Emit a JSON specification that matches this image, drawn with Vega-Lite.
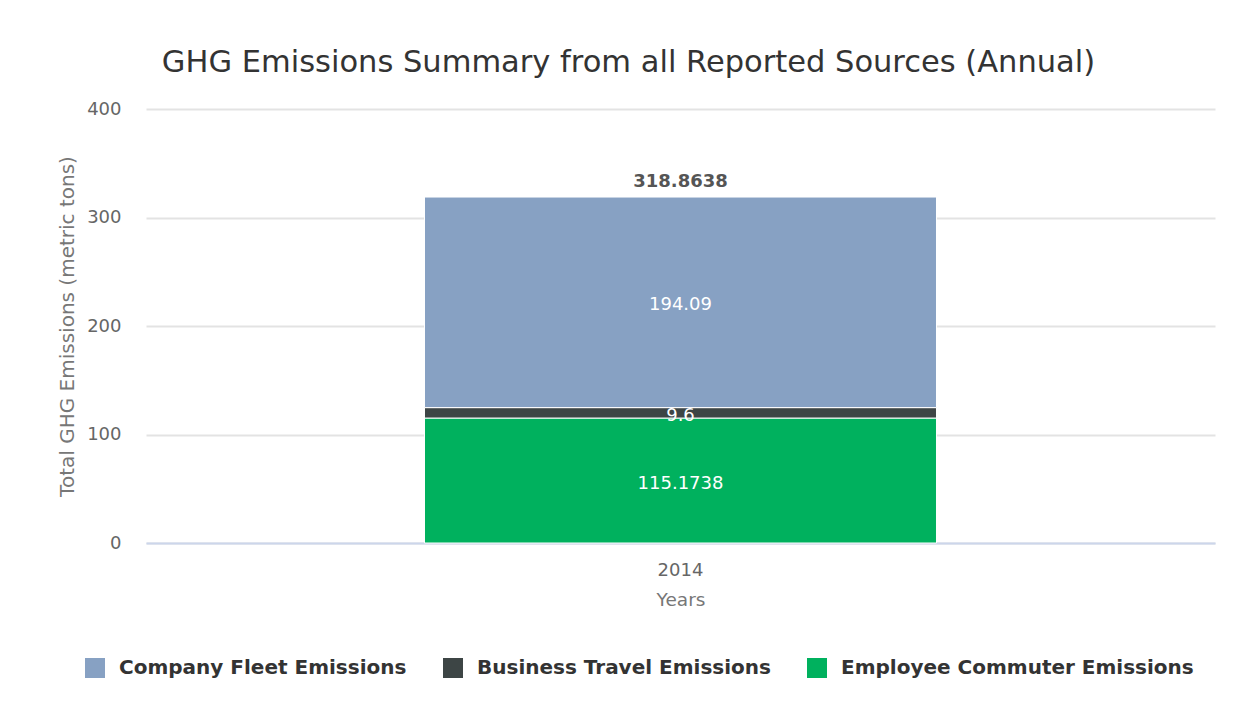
{
  "$schema": "https://vega.github.io/schema/vega-lite/v6.json",
  "width": 1069,
  "height": 434,
  "autosize": {"type": "none"},
  "padding": {"left": 146, "top": 109, "right": 42, "bottom": 170},
  "background": "white",
  "config": {
    "view": {"stroke": null},
    "font": "DejaVu Sans",
    "axisY": {
      "grid": true,
      "gridColor": "#e3e3e3",
      "gridWidth": 2,
      "domain": false,
      "ticks": false,
      "labelPadding": 25,
      "labelFontSize": 18,
      "labelColor": "#666666",
      "titleFontSize": 20,
      "titleColor": "#777777",
      "titleFontWeight": "normal",
      "titlePadding": 9
    }
  },
  "title": {
    "text": "GHG Emissions Summary from all Reported Sources (Annual)",
    "fontSize": 30.5,
    "fontWeight": "normal",
    "color": "#333333",
    "anchor": "middle",
    "frame": "group",
    "dx": -52,
    "offset": 22
  },
  "data": {
    "values": [
      {"year": "2014", "source": "Employee Commuter Emissions", "value": 115.1738, "seq": 1},
      {"year": "2014", "source": "Business Travel Emissions", "value": 9.6, "seq": 2},
      {"year": "2014", "source": "Company Fleet Emissions", "value": 194.09, "seq": 3}
    ]
  },
  "encoding": {
    "x": {
      "field": "year",
      "type": "nominal",
      "title": "Years",
      "scale": {"paddingInner": 0, "paddingOuter": 0.544},
      "axis": {
        "labelAngle": 0,
        "domainColor": "#ccd6eb",
        "domainWidth": 2,
        "ticks": false,
        "labelPadding": 18,
        "labelFontSize": 18,
        "labelColor": "#666666",
        "titleFontSize": 18.5,
        "titleColor": "#777777",
        "titleFontWeight": "normal",
        "titlePadding": 11
      }
    }
  },
  "layer": [
    {
      "mark": {"type": "bar", "stroke": "white", "strokeWidth": 1},
      "encoding": {
        "y": {
          "field": "value",
          "type": "quantitative",
          "stack": "zero",
          "title": "Total GHG Emissions (metric tons)",
          "scale": {"domain": [0, 400]},
          "axis": {"values": [0, 100, 200, 300, 400]}
        },
        "color": {
          "field": "source",
          "type": "nominal",
          "sort": ["Company Fleet Emissions", "Business Travel Emissions", "Employee Commuter Emissions"],
          "scale": {
            "domain": ["Company Fleet Emissions", "Business Travel Emissions", "Employee Commuter Emissions"],
            "range": ["#87a1c3", "#3d4545", "#00b15e"]
          },
          "legend": {
            "title": null,
            "orient": "none",
            "direction": "horizontal",
            "legendX": -61,
            "legendY": 549,
            "symbolType": "square",
            "symbolSize": 400,
            "symbolStrokeWidth": 0,
            "symbolOpacity": 1,
            "labelFontSize": 20,
            "labelFontWeight": "bold",
            "labelColor": "#333333",
            "labelOffset": 14,
            "labelLimit": 500,
            "columnPadding": 36
          }
        },
        "order": {"field": "seq", "type": "quantitative", "sort": "ascending"}
      }
    },
    {
      "transform": [
        {"stack": "value", "groupby": ["year"], "sort": [{"field": "seq", "order": "ascending"}], "as": ["v0", "v1"]},
        {"calculate": "(datum.v0 + datum.v1) / 2", "as": "mid"}
      ],
      "mark": {"type": "text", "color": "white", "fontSize": 18, "baseline": "middle", "dy": 3},
      "encoding": {
        "y": {"field": "mid", "type": "quantitative", "title": "Total GHG Emissions (metric tons)", "axis": {"values": [0, 100, 200, 300, 400]}},
        "text": {"field": "value", "type": "quantitative", "format": ".4~f"}
      }
    },
    {
      "transform": [
        {"aggregate": [{"op": "sum", "field": "value", "as": "total"}], "groupby": ["year"]}
      ],
      "mark": {"type": "text", "color": "#555555", "fontSize": 18, "fontWeight": "bold", "baseline": "middle", "dy": -15},
      "encoding": {
        "y": {"field": "total", "type": "quantitative", "title": "Total GHG Emissions (metric tons)", "axis": {"values": [0, 100, 200, 300, 400]}},
        "text": {"field": "total", "type": "quantitative", "format": ".4~f"}
      }
    }
  ]
}
